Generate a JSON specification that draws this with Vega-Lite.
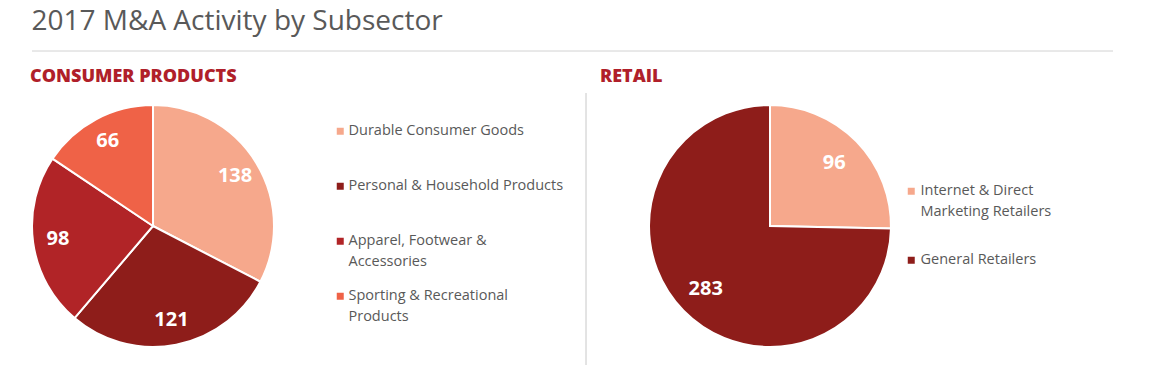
{
  "$schema": "https://vega.github.io/schema/vega-lite/v6.json",
  "background": "white",
  "padding": {"left": 28, "top": 8, "right": 0, "bottom": 0},
  "config": {
    "font": "Open Sans",
    "view": {"stroke": null},
    "legend": {"labelFont": "Open Sans"}
  },
  "datasets": {
    "consumer": [
      {"subsector": "Durable Consumer Goods", "deals": 138},
      {"subsector": "Personal & Household Products", "deals": 121},
      {"subsector": "Apparel, Footwear & Accessories", "deals": 98},
      {"subsector": "Sporting & Recreational Products", "deals": 66}
    ],
    "retail": [
      {"subsector": "Internet & Direct Marketing Retailers", "deals": 96},
      {"subsector": "General Retailers", "deals": 283}
    ]
  },
  "spacing": 16,
  "vconcat": [
    {
      "width": 1081,
      "height": 1,
      "title": {"text": "2017 M&A Activity by Subsector", "anchor": "start", "fontSize": 28, "fontWeight": "normal", "color": "#595959", "baseline": "alphabetic", "offset": -8, "dx": 0, "font": "Open Sans"},
      "data": {"values": [{}]},
      "mark": {"type": "rule", "color": "#d2d2d2", "strokeWidth": 1},
      "encoding": {"y": {"datum": 0, "type": "quantitative", "scale": {"domain": [0, 1]}, "axis": null}}
    },
    {
      "spacing": 13,
      "resolve": {"scale": {"color": "independent", "theta": "independent"}, "legend": {"color": "independent"}},
      "hconcat": [
        {
          "width": 242,
          "height": 242,
          "title": {"text": "CONSUMER PRODUCTS", "anchor": "start", "fontSize": 18, "fontWeight": 800, "color": "#B01F2A", "baseline": "alphabetic", "offset": 1, "dx": 2, "font": "Open Sans"},
          "data": {"name": "consumer"},
          "encoding": {
            "theta": {"field": "deals", "type": "quantitative", "stack": true},
            "order": {"field": "deals", "type": "quantitative", "sort": "descending"},
            "color": {
              "field": "subsector", "type": "nominal",
              "scale": {"domain": ["Durable Consumer Goods", "Personal & Household Products", "Apparel, Footwear & Accessories", "Sporting & Recreational Products"], "range": ["#F6A88C", "#8E1D1A", "#B12427", "#EF6247"]},
              "legend": {
                "orient": "none", "legendX": 301, "legendY": 19, "title": null,
                "symbolType": "square", "symbolSize": 49, "symbolStrokeWidth": 0,
                "labelFontSize": 14.5, "labelColor": "#595959", "labelOffset": 1, "labelLimit": 400,
                "rowPadding": 19, "gridAlign": "all", "labelBaseline": "middle",
                "labelExpr": "datum.label == 'Apparel, Footwear & Accessories' ? ['Apparel, Footwear &', 'Accessories'] : datum.label == 'Sporting & Recreational Products' ? ['Sporting & Recreational', 'Products'] : datum.label",
                "encode": {"labels": {"update": {"lineHeight": {"value": 21}}}}
              }
            }
          },
          "layer": [
            {"mark": {"type": "arc", "stroke": "white", "strokeWidth": 2}},
            {"mark": {"type": "text", "radius": 96, "fontSize": 20, "fontWeight": "bold", "fill": "white", "align": "center", "baseline": "middle"},
             "encoding": {"text": {"field": "deals", "type": "quantitative"}}}
          ]
        },
        {
          "width": 9,
          "height": 260,
          "data": {"values": [{}]},
          "mark": {"type": "rule", "color": "#c8c8c8", "strokeWidth": 1},
          "encoding": {
            "x": {"datum": 1, "type": "quantitative", "scale": {"domain": [0, 1]}, "axis": null},
            "y": {"value": -12},
            "y2": {"value": 260}
          }
        },
        {
          "width": 242,
          "height": 242,
          "title": {"text": "RETAIL", "anchor": "start", "fontSize": 18, "fontWeight": 800, "color": "#B01F2A", "baseline": "alphabetic", "offset": 1, "dx": -45, "font": "Open Sans"},
          "data": {"name": "retail"},
          "encoding": {
            "theta": {"field": "deals", "type": "quantitative", "stack": true},
            "order": {"field": "subsector", "type": "nominal", "sort": "descending"},
            "color": {
              "field": "subsector", "type": "nominal",
              "scale": {"domain": ["Internet & Direct Marketing Retailers", "General Retailers"], "range": ["#F6A88C", "#8E1D1A"]},
              "legend": {
                "orient": "none", "legendX": 255, "legendY": 79, "title": null,
                "symbolType": "square", "symbolSize": 49, "symbolStrokeWidth": 0,
                "labelFontSize": 14.5, "labelColor": "#595959", "labelOffset": 2, "labelLimit": 400,
                "rowPadding": 33, "gridAlign": "all", "labelBaseline": "middle",
                "labelExpr": "datum.label == 'Internet & Direct Marketing Retailers' ? ['Internet & Direct', 'Marketing Retailers'] : datum.label",
                "encode": {"labels": {"update": {"lineHeight": {"value": 21}}}}
              }
            }
          },
          "layer": [
            {"mark": {"type": "arc", "stroke": "white", "strokeWidth": 2}},
            {"mark": {"type": "text", "radius": 90, "fontSize": 20, "fontWeight": "bold", "fill": "white", "align": "center", "baseline": "middle"},
             "encoding": {"text": {"field": "deals", "type": "quantitative"}}}
          ]
        }
      ]
    }
  ]
}
